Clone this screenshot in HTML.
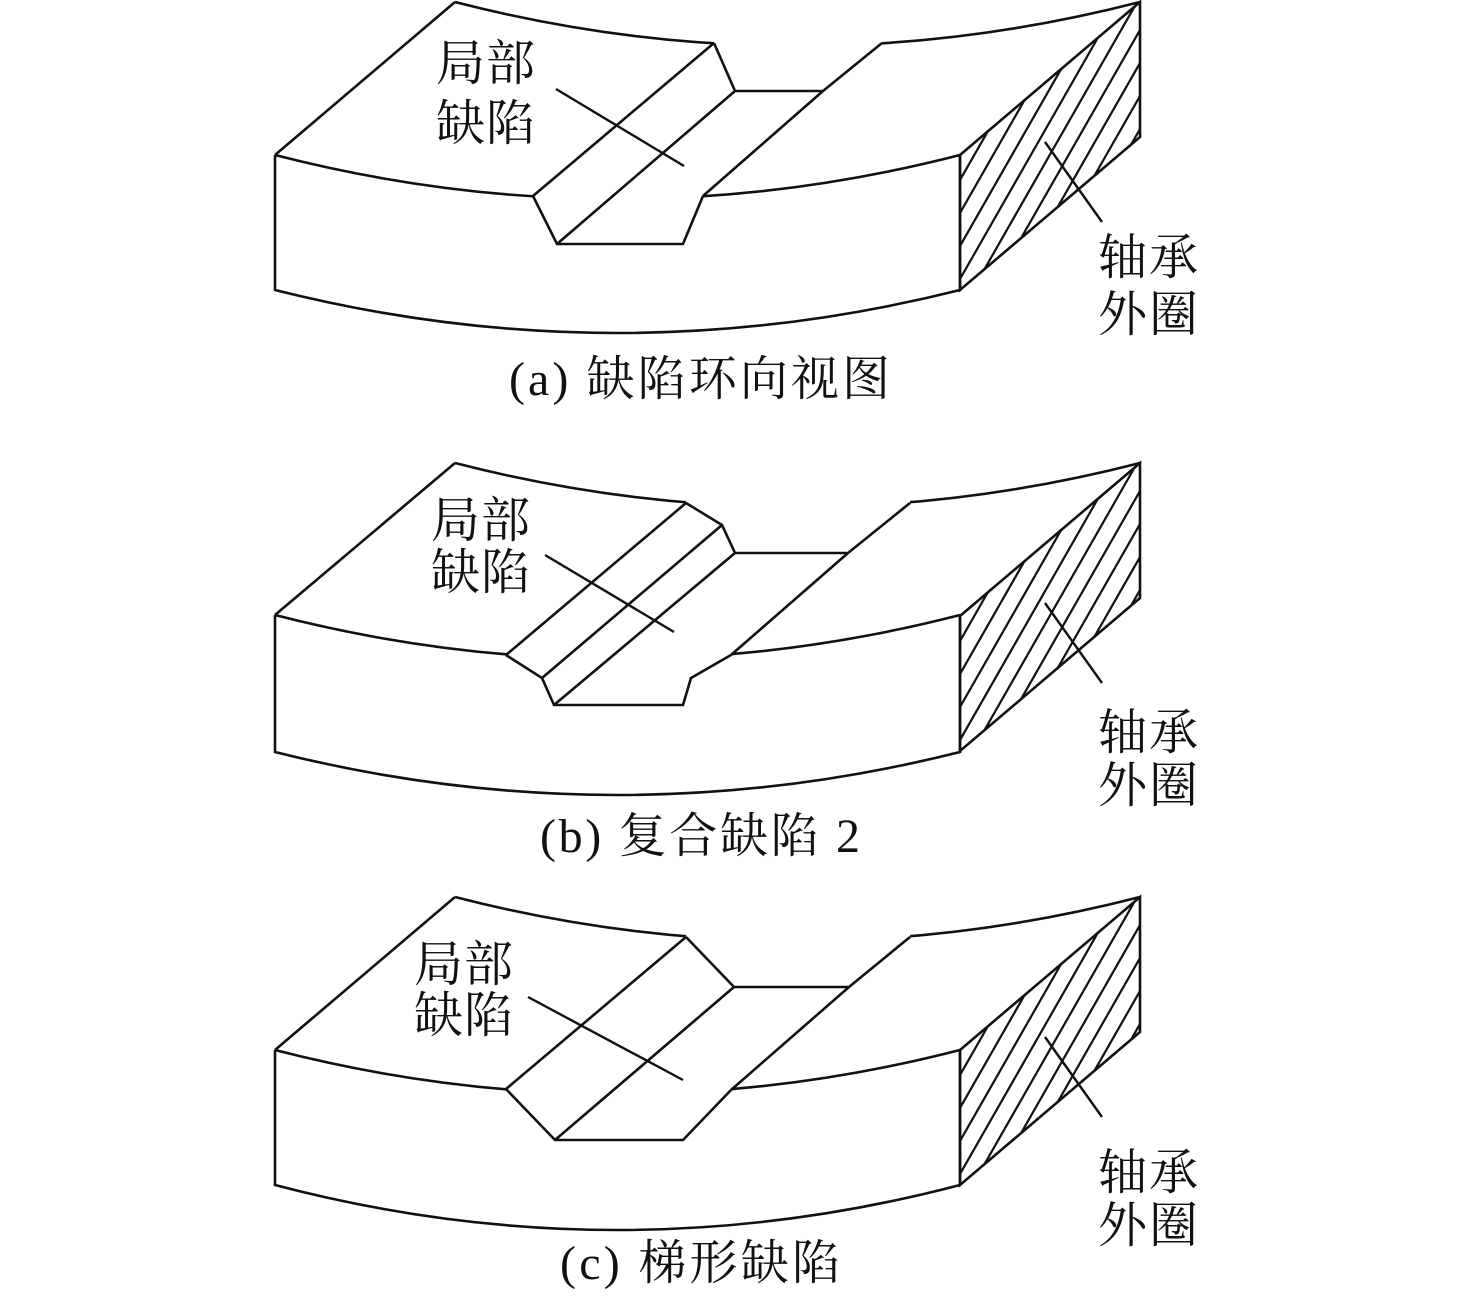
<!DOCTYPE html>
<html><head><meta charset="utf-8"><style>
html,body{margin:0;padding:0;background:#fff;overflow:hidden;width:1476px;height:1302px;}
svg{display:block;}
text{font-family:"Liberation Serif","Noto Serif CJK SC",serif;fill:#111;}
</style></head><body>
<svg width="1476" height="1302" viewBox="0 0 1476 1302" xmlns="http://www.w3.org/2000/svg">
<defs>
<clipPath id="rf"><path d="M960,155 L1140,2 L1140,137 L960,290 Z"/></clipPath>
<g id="face">
  <g clip-path="url(#rf)" stroke="#111" stroke-width="2.2">
    <line x1="900" y1="285" x2="1200" y2="-240"/>
    <line x1="900" y1="318" x2="1200" y2="-207"/>
    <line x1="900" y1="351" x2="1200" y2="-174"/>
    <line x1="900" y1="384" x2="1200" y2="-141"/>
    <line x1="900" y1="417" x2="1200" y2="-108"/>
    <line x1="900" y1="450" x2="1200" y2="-75"/>
    <line x1="900" y1="483" x2="1200" y2="-42"/>
    <line x1="900" y1="516" x2="1200" y2="-9"/>
    <line x1="900" y1="549" x2="1200" y2="24"/>
  </g>
  <path d="M960,155 L1140,2 L1140,137 L960,290 Z" fill="none" stroke="#111" stroke-width="2.6"/>
  <line x1="1045" y1="142" x2="1102" y2="222" stroke="#111" stroke-width="2.4"/>
</g>
</defs>
<rect width="1476" height="1302" fill="#fff"/>
<g fill="none" stroke="#111" stroke-width="2.6" stroke-linejoin="miter">
<path d="M275,155 L455,2"/>
<path d="M275,155 Q617.5,243 960,155"/>
<path d="M455,2 Q797.5,90 1140,2"/>
<path d="M275,155 L275,290 Q617.5,376 960,290 L960,155"/>
<polygon points="533,188 703,188 703,196 683,244 557,244 533,196" fill="#fff" stroke="none"/>
<polygon points="714,36 882,36 882,43 823,91 735,91 714,43" fill="#fff" stroke="none"/>
<polyline points="533,196 557,244 683,244 703,196"/>
<polyline points="714,43 735,91 823,91 882,43"/>
<line x1="533" y1="196" x2="714" y2="43"/>
<line x1="557" y1="244" x2="735" y2="91"/>
<line x1="703" y1="196" x2="823" y2="91"/>
<line x1="556" y1="89" x2="684" y2="166" stroke-width="2.4"/>

<path d="M275,615 L455,463"/>
<path d="M275,615 Q617.5,703 960,615"/>
<path d="M455,463 Q797.5,551 1140,463"/>
<path d="M275,615 L275,752 Q617.5,838 960,752 L960,615"/>
<polygon points="506,646 731,646 731,655 691,678 683,705 554,705 542,678 506,655" fill="#fff" stroke="none"/>
<polygon points="686,495 910,495 910,503 848,553 735,553 722,525 686,503" fill="#fff" stroke="none"/>
<polyline points="506,655 542,678 554,705 683,705 691,678 731,655"/>
<polyline points="686,503 722,525 735,553 848,553 910,503"/>
<line x1="506" y1="655" x2="686" y2="503"/>
<line x1="542" y1="678" x2="722" y2="525"/>
<line x1="554" y1="705" x2="735" y2="553"/>
<line x1="731" y1="655" x2="848" y2="553"/>
<line x1="545" y1="555" x2="674" y2="632" stroke-width="2.4"/>

<path d="M275,1050 L455,897"/>
<path d="M275,1050 Q617.5,1138 960,1050"/>
<path d="M455,897 Q797.5,985 1140,897"/>
<path d="M275,1050 L275,1185 Q617.5,1275 960,1185 L960,1050"/>
<polygon points="506,1080 731,1080 731,1090 683,1140 555,1140 506,1089" fill="#fff" stroke="none"/>
<polygon points="686,929 910,929 910,937 849,987 734,987 686,937" fill="#fff" stroke="none"/>
<polyline points="506,1089 555,1140 683,1140 731,1090"/>
<polyline points="686,937 734,987 849,987 910,937"/>
<line x1="506" y1="1089" x2="686" y2="937"/>
<line x1="555" y1="1140" x2="734" y2="987"/>
<line x1="731" y1="1090" x2="849" y2="987"/>
<line x1="528" y1="997" x2="683" y2="1080" stroke-width="2.4"/>
</g>
<use href="#face"/>
<use href="#face" transform="translate(0,461)"/>
<use href="#face" transform="translate(0,895)"/>

<g font-size="49">
<text x="436" y="80" textLength="99" lengthAdjust="spacing">局部</text>
<text x="436" y="140" textLength="99" lengthAdjust="spacing">缺陷</text>
<text x="431" y="537" textLength="99" lengthAdjust="spacing">局部</text>
<text x="431" y="589" textLength="99" lengthAdjust="spacing">缺陷</text>
<text x="414" y="981" textLength="99" lengthAdjust="spacing">局部</text>
<text x="414" y="1032" textLength="99" lengthAdjust="spacing">缺陷</text>
<text x="1098" y="274" textLength="100" lengthAdjust="spacing">轴承</text>
<text x="1098" y="331" textLength="100" lengthAdjust="spacing">外圈</text>
<text x="1098" y="749" textLength="100" lengthAdjust="spacing">轴承</text>
<text x="1098" y="802" textLength="100" lengthAdjust="spacing">外圈</text>
<text x="1098" y="1189" textLength="100" lengthAdjust="spacing">轴承</text>
<text x="1098" y="1242" textLength="100" lengthAdjust="spacing">外圈</text>
</g>
<g font-size="48">
<text x="509" y="395" textLength="381" lengthAdjust="spacing">(a) 缺陷环向视图</text>
<text x="540" y="852" textLength="320" lengthAdjust="spacing">(b) 复合缺陷 2</text>
<text x="560" y="1279" textLength="280" lengthAdjust="spacing">(c) 梯形缺陷</text>
</g>
</svg>
</body></html>
